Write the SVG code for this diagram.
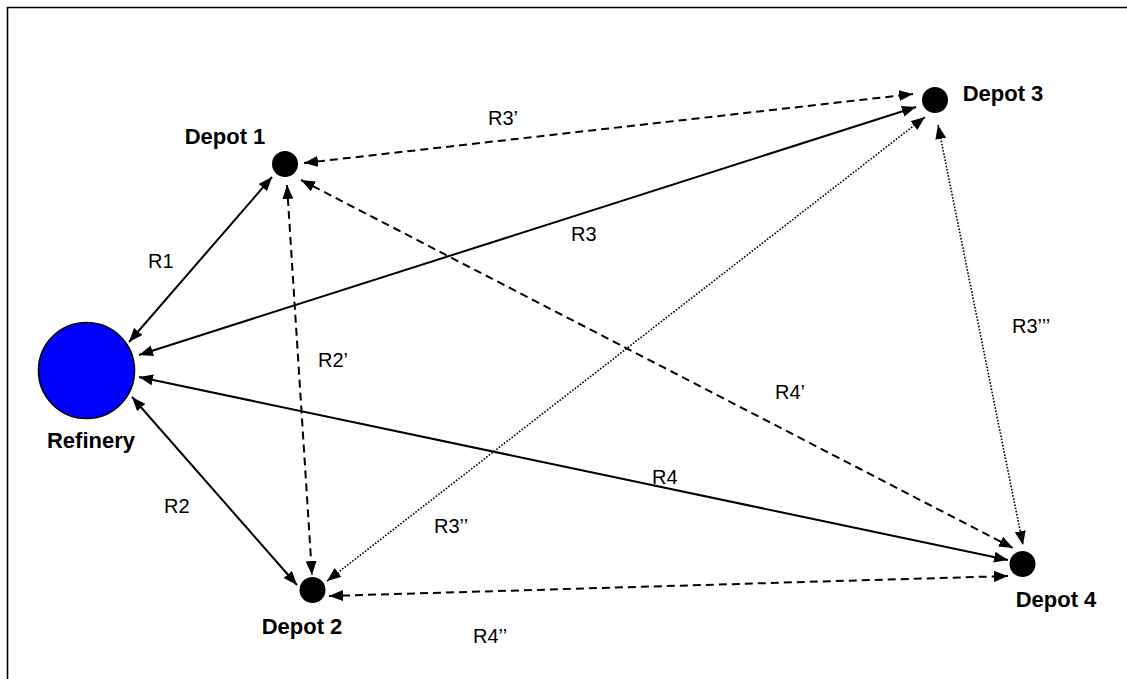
<svg xmlns="http://www.w3.org/2000/svg" width="1127" height="679" viewBox="0 0 1127 679">
  <style>
    .frame { fill: none; stroke: #000; stroke-width: 1.6; }
    .route { fill: none; stroke: #000; stroke-width: 2; marker-start: url(#head); marker-end: url(#head); }
    .dashed { stroke-dasharray: 8 5; }
    .dotted { stroke-width: 1.6; stroke-dasharray: 1.6 1.6; }
    .depot { fill: #000; }
    .refinery { fill: #0000FF; stroke: #000; stroke-width: 1.6; }
    .name { font-family: "Liberation Sans", Arial, sans-serif; font-weight: bold; font-size: 22px; fill: #000; }
    .tag { font-family: "Liberation Sans", Arial, sans-serif; font-size: 20px; fill: #000; }
  </style>
  <defs>
    <marker id="head" markerUnits="userSpaceOnUse" markerWidth="15" markerHeight="12" refX="14" refY="5.5" orient="auto-start-reverse">
      <path d="M0,0 L14,5.5 L0,11 z" fill="#000"/>
    </marker>
  </defs>

  <rect width="1127" height="679" fill="#fff"/>
  <!-- outer frame (left and top edges) -->
  <path class="frame" d="M7.5,679 V7.5 H1127"/>

  <!-- routes -->
  <g id="connectors">
    <!-- solid: refinery to depots -->
    <line class="route" x1="129" y1="342" x2="272" y2="177"/>
    <line class="route" x1="139" y1="355" x2="916" y2="107"/>
    <line class="route" x1="139" y1="377" x2="1008" y2="560"/>
    <line class="route" x1="132" y1="397" x2="297" y2="585"/>
    <!-- dashed: depot to depot -->
    <line class="route dashed" x1="287" y1="185" x2="312" y2="575"/>
    <line class="route dashed" x1="304" y1="163" x2="913" y2="94"/>
    <line class="route dashed" x1="301" y1="180" x2="1013" y2="548"/>
    <line class="route dashed" x1="329" y1="596" x2="1008" y2="576"/>
    <!-- dotted -->
    <line class="route dotted" x1="327" y1="581" x2="925" y2="117"/>
    <line class="route dotted" x1="938" y1="125" x2="1023" y2="545"/>

    <text class="tag" x="148" y="268">R1</text>
    <text class="tag" x="164" y="513">R2</text>
    <text class="tag" x="318" y="367">R2’</text>
    <text class="tag" x="571" y="241">R3</text>
    <text class="tag" x="488" y="125">R3’</text>
    <text class="tag" x="434" y="533">R3’’</text>
    <text class="tag" x="1012" y="333">R3’’’</text>
    <text class="tag" x="652" y="484">R4</text>
    <text class="tag" x="775" y="399">R4’</text>
    <text class="tag" x="473" y="643">R4’’</text>
  </g>

  <g id="refinery">
    <circle class="refinery" cx="86.5" cy="370.5" r="48"/>
    <text class="name" x="91" y="448" text-anchor="middle">Refinery</text>
  </g>
  <g id="depot1">
    <circle class="depot" cx="285" cy="164" r="13"/>
    <text class="name" x="225" y="144" text-anchor="middle">Depot 1</text>
  </g>
  <g id="depot2">
    <circle class="depot" cx="312.5" cy="590" r="13"/>
    <text class="name" x="302" y="634" text-anchor="middle">Depot 2</text>
  </g>
  <g id="depot3">
    <circle class="depot" cx="935" cy="100" r="13"/>
    <text class="name" x="1003" y="101" text-anchor="middle">Depot 3</text>
  </g>
  <g id="depot4">
    <circle class="depot" cx="1022.5" cy="564" r="13"/>
    <text class="name" x="1056" y="607" text-anchor="middle">Depot 4</text>
  </g>
</svg>
